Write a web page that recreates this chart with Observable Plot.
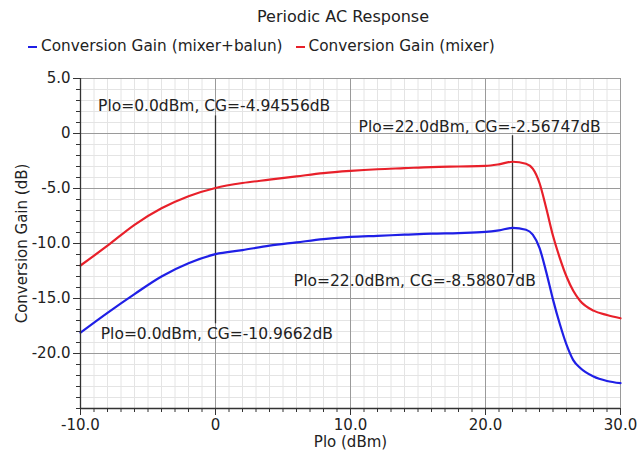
<!DOCTYPE html>
<html>
<head>
<meta charset="utf-8">
<script src="https://cdn.jsdelivr.net/npm/d3@7"></script>
<script src="https://cdn.jsdelivr.net/npm/@observablehq/plot@0.6"></script>
<style>
  body { margin: 0; background: #fff; font-family: "DejaVu Sans", sans-serif; }
  #wrap { position: relative; width: 637px; height: 454px; }
  #title { position: absolute; left: 0; width: 686px; top: 7px; text-align: center; font-size: 16px; color: #222; }
  #legend { position: absolute; left: 28px; top: 37px; font-size: 15.3px; color: #222; white-space: nowrap; }
  #legend span.sw { display: inline-block; width: 9px; height: 2px; vertical-align: middle; margin-right: 4px; }
  #chart { position: absolute; left: 0; top: 60px; }
</style>
</head>
<body>
<div id="wrap">
  <div id="title"></div>
  <div id="legend"></div>
  <div id="chart"></div>
</div>
<script>
const titleText = "Periodic AC Response";
const seriesNames = ["Conversion Gain (mixer+balun)", "Conversion Gain (mixer)"];
const seriesColors = ["#1f1fe6", "#e8202a"];
const xLabel = "Plo (dBm)";
const yLabel = "Conversion Gain (dB)";

const plo = [-10, -8, -6, -4, -2, 0, 2, 4, 6, 8, 10, 12, 14, 16, 18, 20, 21, 22, 23, 23.5, 24, 24.5, 25, 25.5, 26, 26.5, 27, 28, 29, 30];
const gainMixer = [-12.0, -10.2, -8.3, -6.8, -5.7, -4.95, -4.5, -4.2, -3.9, -3.6, -3.4, -3.25, -3.15, -3.05, -3.0, -2.95, -2.8, -2.567, -2.75, -3.2, -4.5, -6.8, -9.3, -11.3, -13.0, -14.3, -15.2, -16.1, -16.5, -16.8];
const gainBalun = [-18.1, -16.3, -14.6, -13.0, -11.8, -10.97, -10.6, -10.2, -9.9, -9.6, -9.4, -9.3, -9.2, -9.1, -9.05, -8.95, -8.8, -8.588, -8.75, -9.2, -10.4, -12.6, -15.1, -17.3, -19.2, -20.6, -21.3, -22.1, -22.5, -22.7];

const xMajorTicks = [-10, 0, 10, 20, 30];
const yMajorTicks = [-25, -20, -15, -10, -5, 0, 5];
const xMinor = d3.range(-10, 31, 1);
const yMinor = d3.range(-25, 6, 1);

// annotation texts and their anchors (data units)
const markerText = ["Plo=0.0dBm, CG=-4.94556dB", "Plo=0.0dBm, CG=-10.9662dB", "Plo=22.0dBm, CG=-2.56747dB", "Plo=22.0dBm, CG=-8.58807dB"];
const labelX = [-8.7, -8.5, 10.6, 5.8];
const labelY = [2.5, -18.2, 0.6, -13.4];
const markerLineX = [0, 22];
const markerLineTop = [1.6, -0.2];
const markerLineBottom = [-17.3, -12.7];

document.getElementById("title").textContent = titleText;
document.getElementById("legend").innerHTML = seriesNames.map((n, i) =>
  `<span class="sw" style="background:${seriesColors[i]}"></span>${n}`).join('<span style="display:inline-block;width:13px"></span>');

const data = [];
plo.forEach((p, i) => {
  data.push({x: p, y: gainBalun[i], s: seriesNames[0]});
  data.push({x: p, y: gainMixer[i], s: seriesNames[1]});
});
const labels = markerText.map((t, i) => ({t, x: labelX[i], y: labelY[i]}));
const mlines = markerLineX.map((x, i) => ({x, y1: markerLineTop[i], y2: markerLineBottom[i]}));
const fmt = d => d === 0 ? "0" : d.toFixed(1);

const chart = Plot.plot({
  width: 637,
  height: 394,
  marginLeft: 80,
  marginRight: 17,
  marginTop: 18,
  marginBottom: 46,
  style: {fontFamily: "DejaVu Sans, sans-serif", fontSize: "15px", color: "#222", background: "#fff"},
  x: {domain: [-10, 30], label: null},
  y: {domain: [-25, 5], label: null},
  color: {domain: seriesNames, range: seriesColors},
  marks: [
    Plot.ruleX(xMinor, {stroke: "#e4e4e4", strokeWidth: 1}),
    Plot.ruleY(yMinor, {stroke: "#e4e4e4", strokeWidth: 1}),
    Plot.ruleX(xMajorTicks, {stroke: "#9a9a9a", strokeWidth: 1}),
    Plot.ruleY(yMajorTicks, {stroke: "#9a9a9a", strokeWidth: 1}),
    Plot.ruleX(mlines, {x: "x", y1: "y1", y2: "y2", stroke: "#333", strokeWidth: 1.3}),
    Plot.line(data, {x: "x", y: "y", z: "s", stroke: "s", strokeWidth: 2.2, curve: "monotone-x"}),
    Plot.text(labels, {x: "x", y: "y", text: "t", textAnchor: "start", fontSize: 15.5, fill: "#222"}),
    Plot.axisX(xMinor, {tickSize: 4, text: null, stroke: "#333"}),
    Plot.axisX(xMajorTicks, {tickSize: 7, tickFormat: fmt, stroke: "#333", fontSize: 15, tickPadding: 4}),
    Plot.axisY(yMinor, {tickSize: 4, text: null, stroke: "#333"}),
    Plot.axisY(yMajorTicks.filter(d => d > -25), {tickSize: 7, tickFormat: fmt, stroke: "#333", fontSize: 15, tickPadding: 3}),
    Plot.ruleX([-10], {stroke: "#333", strokeWidth: 1.3}),
    Plot.ruleY([-25], {stroke: "#333", strokeWidth: 1.3}),
    Plot.text([xLabel], {frameAnchor: "bottom", dy: 38, fontSize: 15, fill: "#222"}),
    Plot.text([yLabel], {frameAnchor: "left", textAnchor: "middle", dx: -58, rotate: -90, fontSize: 15, fill: "#222"})
  ]
});
document.getElementById("chart").appendChild(chart);
</script>
</body>
</html>
